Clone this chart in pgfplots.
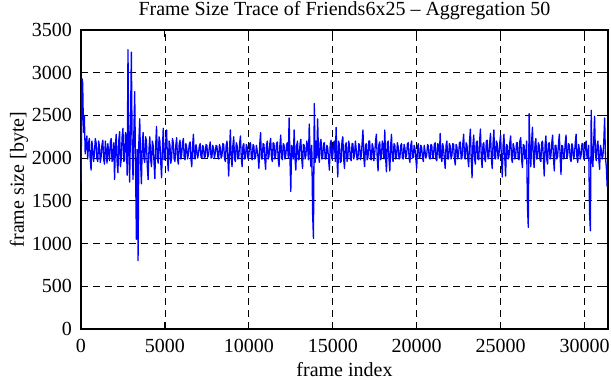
\documentclass[border=0pt]{standalone}
\usepackage{fontspec}
\setmainfont{Liberation Serif}
\usepackage{pgfplots}
\pgfplotsset{compat=1.18}
\begin{document}
\fontsize{20bp}{24bp}\selectfont
\begin{tikzpicture}
\begin{axis}[
  scale only axis,
  width=527bp, height=299bp,
  xmin=0, xmax=31400, ymin=0, ymax=3500,
  xtick={0,5000,...,30000},
  ytick={0,500,...,3500},
  /pgf/number format/assume math mode=true,
  /pgf/number format/1000 sep={},
  scaled x ticks=false, scaled y ticks=false,
  tick align=inside,
  major tick length=7bp,
  every tick/.style={black, line width=1.1bp},
  axis line style={line width=1.5bp},
  grid=major,
  major grid style={black, line width=0.8bp, dash pattern=on 7bp off 5bp},
  xticklabel style={anchor=base, inner sep=0, yshift=-23bp},
  yticklabel style={anchor=east, inner sep=0, xshift=-9bp},
  every axis title shift=0pt,
  title={Frame Size Trace of Friends6x25 -- Aggregation 50},
  title style={at={(axis description cs:0.5,1.050)}, anchor=base, inner sep=0},
  xlabel={frame index},
  xlabel style={at={(axis description cs:0.5,-0.1605)}, anchor=base, inner sep=0},
  ylabel={frame size [byte]},
  ylabel style={at={(axis description cs:-0.1082,0.5)}, anchor=base, inner sep=0},
]
\coordinate (O) at (rel axis cs:0,0);
\addplot[color={rgb,255:red,0;green,0;blue,255}, line width=1.3bp, line join=round, mark=none] coordinates {
(0,1720)(60,2930)(100,2880)(150,2300)(200,2500)(250,2050)(300,2150)(350,2260)(400,1990)(450,2180)(500,2230)(550,1980)(600,1860)(650,2200)(700,2100)(750,1960)(800,2050)(850,2230)(900,2180)(950,1990)
(1000,1960)(1050,2200)(1100,2140)(1150,1950)(1200,2020)(1250,2160)(1300,2210)(1350,1990)(1400,1930)(1450,2200)(1500,2090)(1550,1940)(1600,2170)(1650,2060)(1700,1970)(1750,2190)(1800,2230)(1850,1960)(1900,2010)(1950,2180)
(2000,1750)(2050,2150)(2100,2280)(2150,1960)(2200,1830)(2250,2200)(2300,2310)(2350,1900)(2400,1990)(2450,2250)(2500,2350)(2550,1960)(2600,1980)(2650,2300)(2700,2250)(2750,1800)(2800,3270)(2850,2050)(2900,1720)(2950,2400)
(3000,3240)(3050,2100)(3100,1750)(3150,2300)(3200,2780)(3250,1900)(3300,1050)(3350,2100)(3400,800)(3450,2200)(3500,2460)(3550,1950)(3600,1700)(3650,2150)(3700,2300)(3750,2000)(3800,1950)(3850,2250)(3900,2200)(3950,1900)
(4000,1750)(4050,2100)(4100,2250)(4150,1990)(4200,1900)(4250,2200)(4300,2150)(4350,1950)(4400,1760)(4450,2150)(4500,2370)(4550,2000)(4600,1940)(4650,2250)(4700,2200)(4750,1960)(4800,1770)(4850,2100)(4900,2350)(4950,1980)
(5000,2000)(5050,2200)(5100,2330)(5150,1990)(5200,1850)(5250,2200)(5300,2150)(5350,1940)(5400,2000)(5450,2230)(5500,2180)(5550,1990)(5600,1960)(5650,2150)(5700,2240)(5750,2000)(5800,1930)(5850,2160)(5900,2210)(5950,1990)
(6000,2040)(6050,2180)(6100,2230)(6150,2000)(6200,1980)(6250,2170)(6300,2120)(6350,1990)(6400,2050)(6450,2160)(6500,2190)(6550,1990)(6600,1900)(6650,2150)(6700,2280)(6750,2010)(6800,1990)(6850,2160)(6900,2100)(6950,2000)
(7000,2050)(7050,2140)(7100,2170)(7150,2010)(7200,2000)(7250,2150)(7300,2130)(7350,2000)(7400,2020)(7450,2160)(7500,2150)(7550,2010)(7600,2040)(7650,2130)(7700,2190)(7750,2000)(7800,2010)(7850,2150)(7900,2110)(7950,2000)
(8000,2060)(8050,2150)(8100,2140)(8150,2020)(8200,1990)(8250,2160)(8300,2120)(8350,2000)(8400,2030)(8450,2170)(8500,2160)(8550,2000)(8600,1960)(8650,2150)(8700,2200)(8750,2010)(8800,1790)(8850,2100)(8900,2330)(8950,2000)
(9000,1900)(9050,2150)(9100,2250)(9150,1990)(9200,1960)(9250,2180)(9300,2150)(9350,1990)(9400,2010)(9450,2170)(9500,2260)(9550,2000)(9600,1900)(9650,2150)(9700,2170)(9750,1990)(9800,2000)(9850,2160)(9900,2130)(9950,1990)
(10000,2030)(10050,2170)(10100,2180)(10150,2000)(10200,1980)(10250,2160)(10300,2140)(10350,1990)(10400,2010)(10450,2150)(10500,2090)(10550,2010)(10600,1880)(10650,2160)(10700,2300)(10750,1990)(10800,1990)(10850,2170)(10900,2160)(10950,1990)
(11000,1870)(11050,2150)(11100,2200)(11150,1990)(11200,2020)(11250,2170)(11300,2230)(11350,2000)(11400,1960)(11450,2180)(11500,2170)(11550,1990)(11600,2030)(11650,2170)(11700,2190)(11750,1990)(11800,1900)(11850,2150)(11900,2270)(11950,2000)
(12000,1980)(12050,2170)(12100,2150)(12150,1990)(12200,2030)(12250,2160)(12300,2180)(12350,2000)(12400,2470)(12450,2000)(12500,1610)(12550,2150)(12600,2120)(12650,1990)(12700,2330)(12750,2000)(12800,1860)(12850,2150)(12900,2200)(12950,1980)
(13000,1990)(13050,2170)(13100,2220)(13150,2000)(13200,1880)(13250,2160)(13300,2150)(13350,1990)(13400,2030)(13450,2200)(13500,2140)(13550,1980)(13600,2400)(13650,2050)(13700,1900)(13750,2150)(13800,1350)(13850,1060)(13900,2640)(13950,1950)
(14000,2200)(14050,2000)(14100,2460)(14150,2050)(14200,1950)(14250,2180)(14300,2220)(14350,1990)(14400,2000)(14450,2170)(14500,2180)(14550,1990)(14600,1990)(14650,2150)(14700,2120)(14750,1990)(14800,1860)(14850,2170)(14900,2210)(14950,1990)
(15000,2030)(15050,2180)(15100,2200)(15150,1960)(15200,2360)(15250,2000)(15300,1780)(15350,2200)(15400,2150)(15450,1950)(15500,1960)(15550,2200)(15600,2250)(15650,1990)(15700,1880)(15750,2150)(15800,2180)(15850,1960)(15900,2010)(15950,2200)
(16000,2140)(16050,1990)(16100,1970)(16150,2170)(16200,2170)(16250,1990)(16300,2040)(16350,2200)(16400,2100)(16450,1980)(16500,1990)(16550,2170)(16600,2150)(16650,1980)(16700,2030)(16750,2180)(16800,2330)(16850,2000)(16900,1900)(16950,2150)
(17000,2170)(17050,1980)(17100,2010)(17150,2200)(17200,2200)(17250,1990)(17300,1980)(17350,2170)(17400,2130)(17450,1970)(17500,2050)(17550,2200)(17600,2280)(17650,2000)(17700,1850)(17750,2160)(17800,2190)(17850,1980)(17900,2000)(17950,2200)
(18000,2150)(18050,1990)(18100,2330)(18150,2000)(18200,1840)(18250,2170)(18300,2200)(18350,1990)(18400,1850)(18450,2150)(18500,2280)(18550,2000)(18600,1960)(18650,2170)(18700,2150)(18750,1990)(18800,2020)(18850,2180)(18900,2130)(18950,1990)
(19000,2000)(19050,2150)(19100,2170)(19150,2000)(19200,1990)(19250,2160)(19300,2120)(19350,2000)(19400,2040)(19450,2170)(19500,2180)(19550,2000)(19600,1950)(19650,2150)(19700,2200)(19750,2000)(19800,2010)(19850,2150)(19900,2110)(19950,1990)
(20000,1880)(20050,2130)(20100,2170)(20150,2000)(20200,2010)(20250,2150)(20300,2120)(20350,2000)(20400,1960)(20450,2150)(20500,2080)(20550,2000)(20600,2040)(20650,2160)(20700,2140)(20750,2000)(20800,1990)(20850,2160)(20900,2150)(20950,2000)
(21000,2010)(21050,2160)(21100,2180)(21150,1990)(21200,1970)(21250,2170)(21300,2150)(21350,2000)(21400,2290)(21450,2010)(21500,1960)(21550,2170)(21600,2120)(21650,1990)(21700,1880)(21750,2150)(21800,2200)(21850,1990)(21900,1990)(21950,2170)
(22000,2140)(22050,1990)(22100,2030)(22150,2170)(22200,2160)(22250,1990)(22300,1920)(22350,2160)(22400,2130)(22450,1990)(22500,2050)(22550,2180)(22600,2190)(22650,1990)(22700,2000)(22750,2170)(22800,2280)(22850,2000)(22900,1990)(22950,2180)
(23000,2150)(23050,1990)(23100,1900)(23150,2200)(23200,2340)(23250,2000)(23300,1770)(23350,2150)(23400,2270)(23450,1990)(23500,1930)(23550,2180)(23600,2200)(23650,1990)(23700,1980)(23750,2200)(23800,2340)(23850,2000)(23900,1890)(23950,2160)
(24000,2180)(24050,1990)(24100,1960)(24150,2200)(24200,2210)(24250,1990)(24300,2020)(24350,2180)(24400,2290)(24450,2000)(24500,1880)(24550,2170)(24600,2330)(24650,2000)(24700,1990)(24750,2200)(24800,2170)(24850,1990)(24900,2030)(24950,2180)
(25000,2270)(25050,1990)(25100,1780)(25150,2150)(25200,2280)(25250,2000)(25300,1790)(25350,2160)(25400,2150)(25450,1990)(25500,2010)(25550,2180)(25600,2260)(25650,2000)(25700,1950)(25750,2170)(25800,2130)(25850,1990)(25900,2020)(25950,2180)
(26000,2180)(26050,1990)(26100,1980)(26150,2200)(26200,2240)(26250,1990)(26300,1890)(26350,2160)(26400,2150)(26450,1990)(26500,2030)(26550,2200)(26600,1440)(26650,1190)(26700,2520)(26750,2100)(26800,1900)(26850,2200)(26900,2360)(26950,2000)
(27000,1890)(27050,2170)(27100,2230)(27150,1990)(27200,2000)(27250,2180)(27300,2150)(27350,1980)(27400,1960)(27450,2180)(27500,2200)(27550,2000)(27600,1790)(27650,2150)(27700,2260)(27750,1990)(27800,1930)(27850,2170)(27900,2180)(27950,1990)
(28000,2030)(28050,2180)(28100,2270)(28150,2000)(28200,1850)(28250,2150)(28300,2150)(28350,1990)(28400,2020)(28450,2170)(28500,2280)(28550,2000)(28600,1810)(28650,2150)(28700,2140)(28750,1990)(28800,2010)(28850,2180)(28900,2270)(28950,2000)
(29000,2040)(29050,2170)(29100,2150)(29150,1990)(29200,1960)(29250,2170)(29300,2120)(29350,1990)(29400,2040)(29450,2180)(29500,2280)(29550,2000)(29600,1950)(29650,2160)(29700,2100)(29750,1990)(29800,2040)(29850,2170)(29900,2170)(29950,1990)
(30000,2000)(30050,2170)(30100,2200)(30150,2000)(30200,2050)(30250,2150)(30300,1360)(30350,1150)(30400,2560)(30450,2000)(30500,1900)(30550,2200)(30600,2490)(30650,2050)(30700,1970)(30750,2150)(30800,2200)(30850,1990)(30900,1870)(30950,2150)
(31000,2100)(31050,1990)(31100,2030)(31150,2200)(31200,2470)(31250,2000)(31300,1900)(31350,1670)(31400,1680)
};
\end{axis}
\pgfresetboundingbox
\path (O) ++(-81bp,-51bp) rectangle ++(611bp,380bp);
\end{tikzpicture}
\end{document}
